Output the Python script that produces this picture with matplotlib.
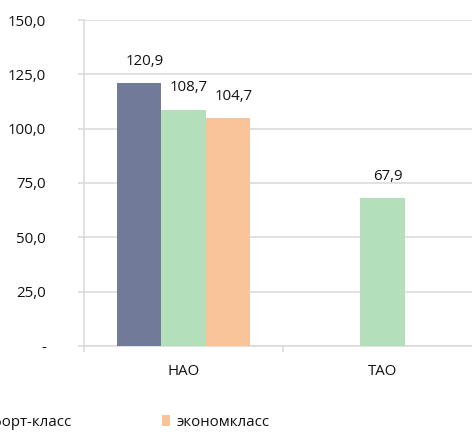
import matplotlib
matplotlib.use("Agg")
import matplotlib.pyplot as plt
from matplotlib.patches import Patch
import numpy as np

# Данные
categories = ["НАО", "ТАО"]
series_names = ["бизнес-класс", "комфорт-класс", "экономкласс"]
business = [120.9, np.nan]
comfort = [108.7, 67.9]
economy = [104.7, np.nan]
colors = ["#717a99", "#b3dfbb", "#f9c499"]

plt.rcParams["font.family"] = ["Open Sans", "DejaVu Sans"]
fs = 10.8

fig = plt.figure(figsize=(4.72, 4.32), dpi=100)
ax = fig.add_axes([84 / 472, 1 - 346 / 432, 398 / 472, 326 / 432])

x = np.arange(len(categories))
w = 0.223
values = [business, comfort, economy]
for i, (vals, col, name) in enumerate(zip(values, colors, series_names)):
    pos = x + (i - 1) * w
    ax.bar(pos, vals, width=w, color=col, label=name, zorder=3)
    for p, v in zip(pos, vals):
        if np.isnan(v):
            continue
        ax.annotate(f"{v:.1f}".replace(".", ","), (p, v), xytext=(4, 10.5),
                    textcoords="offset points", ha="center", va="bottom",
                    fontsize=fs, color="#111111")

ax.set_xlim(-0.5, len(categories) - 0.5)
ax.set_ylim(0, 150)
yt = np.arange(0, 151, 25)
ax.set_yticks(yt)
ax.set_yticklabels(["-" if t == 0 else f"{t:.1f}".replace(".", ",") for t in yt])
ax.yaxis.grid(True, color="#d9d9d9", linewidth=1.1, zorder=0)
ax.tick_params(axis="y", length=4.5, color="#d9d9d9", pad=23, labelsize=fs,
               labelcolor="#111111", width=1.1)

ax.set_xticks(x)
ax.set_xticklabels(categories)
ax.set_xticks(np.arange(-0.5, len(categories), 1), minor=True)
ax.tick_params(axis="x", which="major", length=0, pad=13, labelsize=fs,
               labelcolor="#111111")
ax.tick_params(axis="x", which="minor", length=4, color="#d9d9d9", width=1.1)

for s in ["top", "right"]:
    ax.spines[s].set_visible(False)
for s in ["left", "bottom"]:
    ax.spines[s].set_color("#d9d9d9")
    ax.spines[s].set_linewidth(1.1)

handles = [Patch(facecolor=c, edgecolor="none") for c in colors]
leg = fig.legend(handles, series_names, loc="center left", ncol=3,
                 bbox_to_anchor=(-0.6, 1 - 422 / 432), frameon=False,
                 handlelength=0.55, handleheight=0.7, handletextpad=0.45,
                 columnspacing=6.0, fontsize=fs)
for t in leg.get_texts():
    t.set_color("#111111")

# подгоняем положение легенды: оранжевый маркер около x=162
fig.canvas.draw()
r = fig.canvas.get_renderer()
hb = leg.legend_handles[2].get_window_extent(r)
dx = (162 - hb.x0) / 472
leg.set_bbox_to_anchor((-0.6 + dx, 1 - 422 / 432), transform=fig.transFigure)

fig.savefig("out.png", dpi=100)
